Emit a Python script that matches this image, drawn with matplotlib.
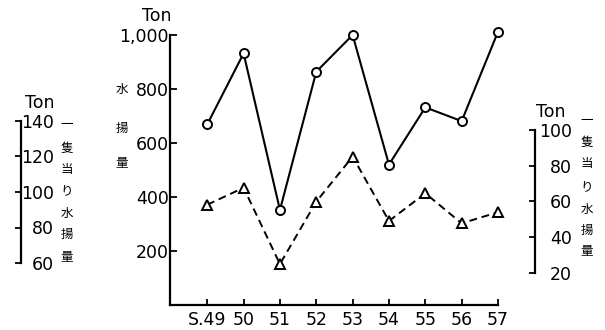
import matplotlib
matplotlib.use('Agg')
import matplotlib.pyplot as plt

# ---- data ----
years = [49, 50, 51, 52, 53, 54, 55, 56, 57]
year_labels = ['S.49', '50', '51', '52', '53', '54', '55', '56', '57']
total_catch = [669, 932, 352, 864, 1000, 520, 732, 681, 1012]          # Ton (main axis)
catch_per_boat = [58.2, 67.7, 25.0, 59.9, 85.1, 49.1, 64.6, 47.8, 54.0]  # Ton (right axis)
main_yticks = [200, 400, 600, 800, 1000]
main_ytick_labels = ['200', '400', '600', '800', '1,000']
left_yticks = [60, 80, 100, 120, 140]
right_yticks = [20, 40, 60, 80, 100]
per_boat_label = '一隻当り水揚量'
main_label = '水揚量'

W, H = 605, 330
fig = plt.figure(figsize=(W / 100, H / 100), dpi=100)

def px_box(x0, y0, x1, y1):
    return [x0 / W, 1 - y1 / H, (x1 - x0) / W, (y1 - y0) / H]

AX_L, AX_T, AX_R, AX_B = 170, 35, 498, 305
ax = fig.add_axes(px_box(AX_L, AX_T, AX_R, AX_B))
ax.set_xlim(47.975, 57.0)
ax.set_ylim(0, 1000)

FS = 12.5
for s in ['top', 'right']:
    ax.spines[s].set_visible(False)
for s in ['left', 'bottom']:
    ax.spines[s].set_linewidth(1.6)
ax.set_xticks(years)
ax.set_xticklabels(year_labels, fontsize=FS)
ax.set_yticks(main_yticks)
ax.set_yticklabels(main_ytick_labels, fontsize=FS)
ax.tick_params(axis='x', direction='in', length=4, width=1.3, pad=4)
ax.tick_params(axis='y', direction='in', length=5, width=1.3, pad=1)

ax.plot(years, total_catch, color='black', lw=1.5, marker='o', ms=6.5,
        mfc='white', mec='black', mew=1.4, clip_on=False, zorder=3)

def bracket_axis(ticks, y_lo_px, y_hi_px, spine_x_px, label_right_px):
    t = ax.twinx()
    lo, hi = ticks[0], ticks[-1]
    scale = (y_lo_px - y_hi_px) / (hi - lo)
    t.set_ylim(lo - (AX_B - y_lo_px) / scale, hi + (y_hi_px - AX_T) / scale)
    for s in ['top', 'bottom', 'left']:
        t.spines[s].set_visible(False)
    sp = t.spines['right']
    sp.set_position(('axes', (spine_x_px - AX_L) / (AX_R - AX_L)))
    sp.set_bounds(lo, hi)
    sp.set_linewidth(1.6)
    t.set_yticks(ticks)
    t.set_yticklabels([str(v) for v in ticks], fontsize=FS)
    pad_pt = (label_right_px - spine_x_px) * 72 / 100
    t.tick_params(axis='y', direction='in', length=4.5, width=1.3, pad=pad_pt)
    for lab in t.get_yticklabels():
        lab.set_horizontalalignment('right')
    return t

ax_left = bracket_axis(left_yticks, 263, 121, 21, 54)
ax_right = bracket_axis(right_yticks, 273, 130, 535, 572)

ax_right.plot(years, catch_per_boat, color='black', lw=1.4, dashes=[4, 2.5],
              marker='^', ms=6.5, mfc='white', mec='black', mew=1.4,
              clip_on=False, zorder=3)

# "Ton" unit labels
for (x, y) in [(157, 16), (40, 103), (551, 112)]:
    fig.text(x / W, 1 - y / H, 'Ton', fontsize=FS, ha='center', va='center')

# vertical Japanese labels
CJK = ['Noto Sans CJK JP', 'DejaVu Sans']
def vtext(text, x, ys, fs=9):
    for ch, y in zip(text, ys):
        fig.text(x / W, 1 - y / H, ch, fontsize=fs, family=CJK,
                 ha='center', va='center')

vtext(main_label, 122, [89, 128, 163])
vtext(per_boat_label, 67, [125, 148, 170, 191, 213, 234, 257])
vtext(per_boat_label, 587, [120, 142, 163, 187, 209, 230, 252])

fig.savefig('out.png', dpi=100)
